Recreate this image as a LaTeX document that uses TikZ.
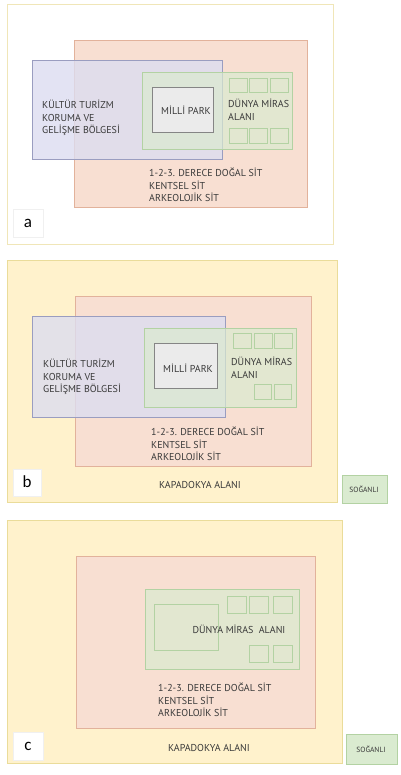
\documentclass[tikz,border=0pt]{standalone}
\usepackage{fontspec}
\setmainfont{PT Sans}
\newfontfamily\tagfont{Carlito}
\definecolor{yelFill}{HTML}{FFF2CC}
\definecolor{yelLine}{HTML}{EADC9A}
\definecolor{oraFill}{HTML}{F8DFD2}
\definecolor{oraLine}{HTML}{E2B29B}
\definecolor{bluFill}{HTML}{DCDDF0}
\definecolor{bluLine}{HTML}{9A9DC0}
\definecolor{grnFill}{HTML}{DAEBD0}
\definecolor{grnLine}{HTML}{B3D2A3}
\definecolor{parkFill}{HTML}{EBEBEB}
\definecolor{parkLine}{HTML}{858585}
\definecolor{txt}{HTML}{3A3A3A}
\begin{document}
\begin{tikzpicture}[x=1pt, y=-1pt,
  area/.style={draw, line width=0.8pt, inner sep=0pt, anchor=north west},
  frame/.style={area, fill=white, draw=yelLine!70},
  kapa/.style={area, fill=yelFill, draw=yelLine},
  sit/.style={area, fill=oraFill, draw=oraLine},
  kultur/.style={area, fill=bluFill, draw=bluLine, fill opacity=0.8},
  miras/.style={area, fill=grnFill, draw=grnLine, fill opacity=0.7},
  parcel/.style={area, draw=grnLine},
  park/.style={area, fill=parkFill, draw=parkLine},
  tagbox/.style={area, fill=white, draw=black!6},
  soganli/.style={area, fill=grnFill, draw=grnLine},
  lbl/.style={font=\fontsize{10}{12.5}\selectfont, text=txt, align=left, inner sep=0pt},
  tagtxt/.style={font=\tagfont\fontsize{17}{17}\selectfont, inner sep=0pt},
  small/.style={font=\fontsize{7.5}{7.5}\selectfont, text=txt, inner sep=0pt}
]
\useasboundingbox (0,0) rectangle (400,775);

% panel a
\node[frame, minimum width=326pt, minimum height=240pt] (frameA) at (7,4) {};
\node[sit, minimum width=233pt, minimum height=167pt] (sitA) at (74,40) {};
\node[kultur, minimum width=190pt, minimum height=99pt] (kulturA) at (32,60) {};
\node[miras, minimum width=150pt, minimum height=77pt] (mirasA) at (142,72) {};
\node[park, minimum width=61pt, minimum height=45pt] (parkA) at (152,87) {};
\foreach \x/\n in {229/1, 249/2, 270/3} {
  \node[parcel, minimum width=18pt, minimum height=14pt] (pA\n) at (\x,78) {};
  \node[parcel, minimum width=18pt, minimum height=15pt] (qA\n) at (\x,128) {};
}
\node[tagbox, minimum width=30pt, minimum height=28pt] (tagA) at (13,209) {};
\node[lbl, anchor=west] (kulturTxtA) at (42,118) {KÜLTÜR TURİZM\\KORUMA VE\\GELİŞME BÖLGESİ};
\node[lbl] (parkTxtA) at (186,110) {MİLLİ PARK};
\node[lbl, anchor=west] (mirasTxtA) at (228,110) {DÜNYA MİRAS\\ALANI};
\node[lbl, anchor=west] (sitTxtA) at (149,185) {1-2-3. DERECE DOĞAL SİT\\KENTSEL SİT\\ARKEOLOJİK SİT};
\node[tagtxt] (tagTxtA) at (28,223) {a};

% panel b
\node[kapa, minimum width=330pt, minimum height=242pt] (kapaB) at (7,260) {};
\node[sit, minimum width=236pt, minimum height=170pt] (sitB) at (75,296) {};
\node[kultur, minimum width=193pt, minimum height=101pt] (kulturB) at (32,316) {};
\node[miras, minimum width=152pt, minimum height=79pt] (mirasB) at (144,328) {};
\node[park, minimum width=63pt, minimum height=45pt] (parkB) at (154,343) {};
\foreach \x/\n in {233/1, 254/2, 274/3}
  \node[parcel, minimum width=18pt, minimum height=15pt] (pB\n) at (\x,333) {};
\foreach \x/\n in {254/1, 274/2}
  \node[parcel, minimum width=17pt, minimum height=15pt] (qB\n) at (\x,384) {};
\node[tagbox, minimum width=28pt, minimum height=27pt] (tagB) at (13,469) {};
\node[soganli, minimum width=45pt, minimum height=28pt] (soganliB) at (342,475) {};
\node[lbl, anchor=west] (kulturTxtB) at (43,377) {KÜLTÜR TURİZM\\KORUMA VE\\GELİŞME BÖLGESİ};
\node[lbl] (parkTxtB) at (188,368) {MİLLİ PARK};
\node[lbl, anchor=west] (mirasTxtB) at (231,368) {DÜNYA MİRAS\\ALANI};
\node[lbl, anchor=west] (sitTxtB) at (151,444) {1-2-3. DERECE DOĞAL SİT\\KENTSEL SİT\\ARKEOLOJİK SİT};
\node[lbl] (kapaTxtB) at (200,485) {KAPADOKYA ALANI};
\node[tagtxt] (tagTxtB) at (27,482) {b};
\node[small] (soganliTxtB) at (364,489) {SOĞANLI};

% panel c
\node[kapa, minimum width=335pt, minimum height=243pt] (kapaC) at (7,520) {};
\node[sit, minimum width=239pt, minimum height=172pt] (sitC) at (76,556) {};
\node[miras, minimum width=154pt, minimum height=80pt] (mirasC) at (145,589) {};
\node[parcel, minimum width=64pt, minimum height=46pt] (innerC) at (154,604) {};
\foreach \x/\n in {227/1, 249/2, 273/3}
  \node[parcel, minimum width=19pt, minimum height=17pt] (pC\n) at (\x,596) {};
\foreach \x/\n in {249/1, 273/2}
  \node[parcel, minimum width=19pt, minimum height=17pt] (qC\n) at (\x,645) {};
\node[tagbox, minimum width=30pt, minimum height=28pt] (tagC) at (13,732) {};
\node[soganli, minimum width=51pt, minimum height=30pt] (soganliC) at (346,734) {};
\node[lbl] (mirasTxtC) at (239,629) {DÜNYA MİRAS\ \ ALANI};
\node[lbl, anchor=west] (sitTxtC) at (158,700) {1-2-3. DERECE DOĞAL SİT\\KENTSEL SİT\\ARKEOLOJİK SİT};
\node[lbl] (kapaTxtC) at (209,748) {KAPADOKYA ALANI};
\node[tagtxt] (tagTxtC) at (28,746) {c};
\node[small] (soganliTxtC) at (371,749) {SOĞANLI};
\end{tikzpicture}
\end{document}
